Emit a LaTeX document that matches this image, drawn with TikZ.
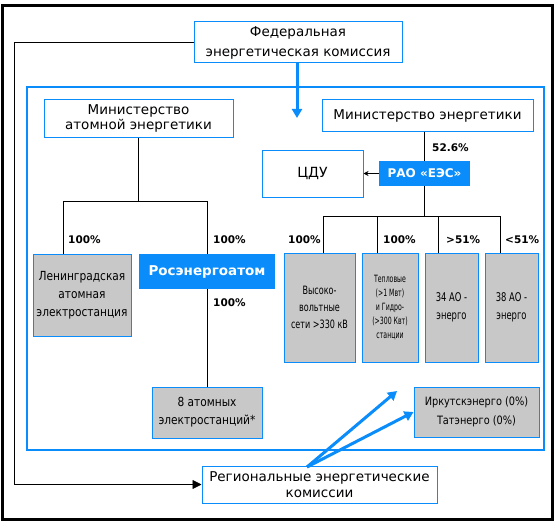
\documentclass[tikz,border=0pt]{standalone}
\usepackage{fontspec}
\setmainfont{DejaVu Sans}
\newfontfamily\narrowfont[FakeStretch=0.85]{DejaVu Sans}
\newfontfamily\narrowerfont[FakeStretch=0.7]{DejaVu Sans}
\newfontfamily\narrowestfont[FakeStretch=0.62]{DejaVu Sans}
\usetikzlibrary{arrows.meta}
\definecolor{ublue}{RGB}{10,140,250}
\definecolor{ugrey}{RGB}{200,200,200}
\tikzset{
 wbox/.style={draw=ublue, line width=1pt, fill=white, inner sep=0pt, align=center, font=\fontsize{13.5}{19}\selectfont},
 gbox/.style={draw=ublue, line width=1pt, fill=ugrey, inner sep=0pt, align=center, font=\narrowfont\fontsize{12.5}{18}\selectfont},
 bluebox/.style={fill=ublue, inner sep=0pt, text=white, font=\bfseries\fontsize{13.5}{16}\selectfont},
 pct/.style={font=\bfseries\fontsize{10.5}{12}\selectfont, inner sep=0pt},
 tree/.style={line width=0.8pt},
 barrow/.style={draw=ublue, line width=3pt, -{Triangle[length=9pt,width=10pt]}}
}
\begin{document}
\begin{tikzpicture}[x=1pt,y=-1pt]
\useasboundingbox (0,0) rectangle (559,524);
% frames
\draw[line width=2.3pt] (2.5,5.5) rectangle (552.5,519.5);
\draw[ublue,line width=2.7pt] (27,87) rectangle (544,450);
% top nodes
\node[wbox,minimum width=208pt,minimum height=41pt,font=\fontsize{13.5}{20}\selectfont] (fed) at (298,42.5) {Федеральная\\энергетическая комиссия};
\node[wbox,minimum width=189pt,minimum height=37pt,font=\fontsize{13.5}{15.5}\selectfont] (mae) at (138.5,118.5) {Министерство\\атомной энергетики};
\node[wbox,minimum width=211pt,minimum height=31pt] (me) at (427.5,115.5) {Министерство энергетики};
\node[wbox,minimum width=101pt,minimum height=47pt,font=\fontsize{14}{16}\selectfont] (cdu) at (312.5,173.5) {ЦДУ};
\node[bluebox,minimum width=91pt,minimum height=25pt,font=\bfseries\fontsize{12}{14}\selectfont] (rao) at (424.5,173.5) {РАО «ЕЭС»};
% atom branch
\node[gbox,minimum width=98pt,minimum height=82pt] (len) at (82,295) {Ленинградская\\атомная\\электростанция};
\node[bluebox,minimum width=136pt,minimum height=35pt] (rea) at (207,271.5) {Росэнергоатом};
\node[gbox,minimum width=110pt,minimum height=51pt] (at8) at (207,412.5) {8 атомных\\электростанций*};
% energy branch
\node[gbox,minimum width=71pt,minimum height=109pt,font=\narrowerfont\fontsize{11.5}{17}\selectfont] (vv) at (319.5,307.5) {Высоко-\\вольтные\\сети >330 кВ};
\node[gbox,minimum width=56pt,minimum height=109pt,font=\narrowestfont\fontsize{10}{14}\selectfont] (tep) at (390,307.5) {Тепловые\\(>1 Мвт)\\и Гидро-\\(>300 Квт)\\станции};
\node[gbox,minimum width=53pt,minimum height=109pt,font=\narrowerfont\fontsize{12}{18}\selectfont] (a34) at (451.5,307.5) {34 АО -\\энерго};
\node[gbox,minimum width=53pt,minimum height=109pt,font=\narrowerfont\fontsize{12}{18}\selectfont] (a38) at (511.5,307.5) {38 АО -\\энерго};
\node[gbox,minimum width=125pt,minimum height=50pt,font=\narrowfont\fontsize{11.5}{19}\selectfont] (irk) at (476.5,412) {Иркутскэнерго (0\%)\\Татэнерго (0\%)};
\node[wbox,minimum width=235pt,minimum height=37pt,font=\fontsize{13.5}{15.5}\selectfont] (reg) at (319.5,484.5) {Региональные энергетические\\комиссии};
% tree lines atom
\coordinate (ja) at (138.5,201);
\coordinate (jl) at (63,201);
\coordinate (jr) at (207,201);
\draw[tree] (mae.south) -- (ja);
\draw[tree] (len.north -| jl) -- (jl) -- (jr) -- (rea.north -| jr);
\draw[tree] (rea.south -| jr) -- (at8.north -| jr);
\node[pct,anchor=west] (p1) at (68,240) {100\%};
\node[pct,anchor=west] (p2) at (213,240) {100\%};
\node[pct,anchor=west] (p3) at (213,303) {100\%};
% tree lines energy
\draw[tree] (me.south -| rao.north) -- (rao.north);
\node[pct,anchor=west] (p52) at (432,148) {52.6\%};
\draw[tree,-{Stealth[length=5pt,width=5pt]}] (rao.west) -- (cdu.east);
\coordinate (je) at (424.5,216);
\coordinate (e1) at (323,216);
\coordinate (e2) at (377,216);
\coordinate (e3) at (438,216);
\coordinate (e4) at (500,216);
\draw[tree] (rao.south) -- (je);
\draw[tree] (vv.north -| e1) -- (e1) -- (e4) -- (a38.north -| e4);
\draw[tree] (e2) -- (tep.north -| e2);
\draw[tree] (e3) -- (a34.north -| e3);
\node[pct,anchor=west] (p4) at (288,240) {100\%};
\node[pct,anchor=west] (p5) at (383,240) {100\%};
\node[pct,anchor=west] (p6) at (446,240) {>51\%};
\node[pct,anchor=west] (p7) at (505,240) {<51\%};
% federal to regional
\coordinate (cl) at (14,0);
\draw[line width=0.8pt,-{Triangle[length=9pt,width=9pt]}] (fed.west) -- (fed.west -| cl) |- (reg.west);
% blue arrows
\draw[barrow] (fed.south -| 297,0) -- (297,118);
\coordinate (rs) at (307,467);
\coordinate (rt) at (397,391);
\draw[barrow] (rs) -- (rt);
\draw[barrow] (rs) -- (irk.west);
\end{tikzpicture}
\end{document}
